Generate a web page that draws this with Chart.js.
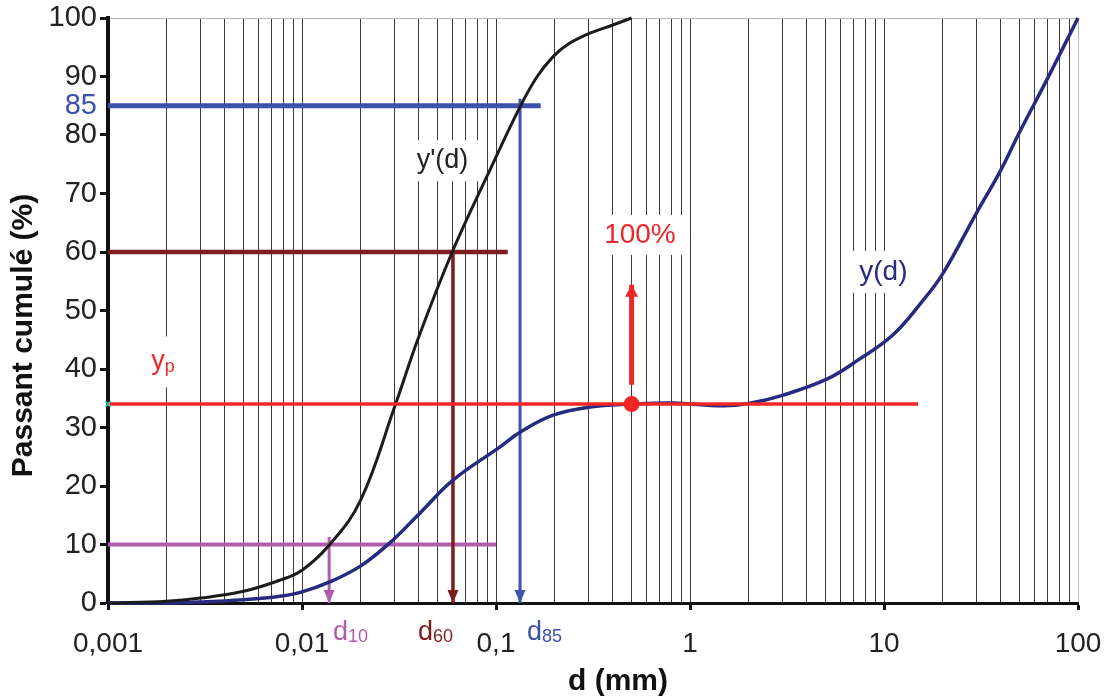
<!DOCTYPE html>
<html><head><meta charset="utf-8">
<script src="https://cdn.jsdelivr.net/npm/chart.js@4.4.1/dist/chart.umd.min.js"></script>
<style>html,body{margin:0;padding:0;background:#fff;}canvas{display:block;}</style>
</head><body>
<canvas id="c" width="1110" height="697"></canvas>
<script>
// ---------- data ----------
const sizesYPrime = [0.001, 0.002, 0.003, 0.005, 0.0077, 0.01, 0.0139, 0.02, 0.03, 0.04, 0.06, 0.09, 0.133, 0.163, 0.197, 0.232, 0.305, 0.4, 0.5];
const passYPrime  = [0, 0.3, 0.85, 2.0, 3.9, 5.6, 10, 17.5, 33.5, 45.5, 60.3, 73, 84.8, 90, 93.4, 95.4, 97.4, 98.8, 100];

const sizesY = [0.001, 0.002, 0.003, 0.005, 0.0077, 0.01, 0.0139, 0.02, 0.0284, 0.0406, 0.06, 0.105, 0.133, 0.197, 0.305, 0.5, 0.82, 1.48, 2.0, 3.0, 5.1, 7.4, 11.1, 15.7, 20.1, 30, 40, 50, 70, 100];
const passY  = [0, 0, 0.15, 0.55, 1.15, 1.9, 3.6, 6.3, 10.3, 15.4, 21, 26.7, 29.2, 32.1, 33.5, 34.0, 34.2, 33.7, 34.1, 35.5, 38.3, 41.6, 45.8, 51.5, 56.3, 66.7, 74, 80.5, 89.8, 100];

const xTickLabels = ['0,001', '0,01', '0,1', '1', '10', '100'];
const yTickValues = [0, 10, 20, 30, 40, 50, 60, 70, 80, 85, 90, 100];
const xDecades = [-3, -2, -1, 0, 1, 2];
const xMinorMultipliers = [1, 2, 3, 4, 5, 6, 7, 8, 9];

// reference lines (d, passant)
const line85X = [0.001, 0.17],  line85Y = [85, 85];
const arrow85X = [0.133, 0.133], arrow85Y = [86.2, 0];
const line60X = [0.001, 0.115], line60Y = [60, 60];
const arrow60X = [0.06, 0.06],  arrow60Y = [60, 0];
const line10X = [0.001, 0.1],   line10Y = [10, 10];
const arrow10X = [0.0138, 0.0138], arrow10Y = [11.3, 0];
const lineYpX = [0.001, 15],    lineYpY = [34, 34];
const dotX = [0.5], dotY = [34];
const arrowUpX = [0.5, 0.5], arrowUpY = [37.3, 54.4];
const markX = [0.001], markY = [34];

// ---------- styles ----------
const FONT = "'Liberation Sans', Arial, sans-serif";
const C_BLACK = '#1c1c1c', C_NAVY = '#272b80', C_BLUE = '#3e51ac', C_DRED = '#7d1d1f', C_MAG = '#b25cad', C_RED = '#ee2626', C_CYAN = '#3cc8c8';

const pts = (xs, ys) => xs.map((x, i) => ({x, y: ys[i]}));
const isDecade = v => Math.abs(Math.log10(v) - Math.round(Math.log10(v))) < 1e-9;

const annotations = [
  {parts: [{t: "y'(d)"}], x: 0.053, y: 75.6, color: '#222', box: true, align: 'center', size: 27, px: 14, py: 7},
  {parts: [{t: '100%'}], x: 0.552, y: 62.9, color: C_RED, box: true, align: 'center', size: 28, px: 12, py: 6},
  {parts: [{t: 'y(d)'}], x: 9.93, y: 56.6, color: C_NAVY, box: true, align: 'center', size: 28, px: 14, py: 7},
  {parts: [{t: 'y'}, {t: 'p', sub: true}], x: 0.00192, y: 41.2, color: C_RED, box: true, align: 'center', size: 27, px: 10, py: 12},
  {parts: [{t: 'd'}, {t: '10', sub: true}], x: 0.01445, y: -5, color: C_MAG, box: false, align: 'left', size: 27},
  {parts: [{t: 'd'}, {t: '60', sub: true}], x: 0.0396, y: -5, color: C_DRED, box: false, align: 'left', size: 27},
  {parts: [{t: 'd'}, {t: '85', sub: true}], x: 0.1445, y: -5, color: C_BLUE, box: false, align: 'left', size: 27},
];

const labelPlugin = {
  id: 'labels',
  beforeDatasetsDraw(chart) {
    const ctx = chart.ctx, xs = chart.scales.x, ys = chart.scales.y;
    annotations.forEach(a => {
      const cx = xs.getPixelForValue(a.x), cy = ys.getPixelForValue(a.y);
      const subSize = Math.round(a.size * 0.66);
      let w = 0;
      a.parts.forEach(p => { ctx.font = (p.sub ? subSize : a.size) + 'px ' + FONT; p.w = ctx.measureText(p.t).width; w += p.w; });
      const left = a.align === 'center' ? cx - w / 2 : cx;
      if (a.box) {
        ctx.fillStyle = '#fff';
        ctx.fillRect(left - a.px, cy - a.size / 2 - a.py, w + 2 * a.px, a.size + 2 * a.py);
      }
      ctx.fillStyle = a.color;
      ctx.textBaseline = 'middle';
      ctx.textAlign = 'left';
      let xx = left;
      a.parts.forEach(p => {
        ctx.font = (p.sub ? subSize : a.size) + 'px ' + FONT;
        ctx.fillText(p.t, xx, p.sub ? cy + a.size * 0.18 : cy);
        xx += p.w;
      });
    });
  }
};

const arrowPlugin = {
  id: 'arrowHeads',
  afterDatasetsDraw(chart) {
    const ctx = chart.ctx;
    chart.data.datasets.forEach((ds, i) => {
      if (!ds.arrowHead) return;
      const el = chart.getDatasetMeta(i).data;
      const a = el[el.length - 2], b = el[el.length - 1];
      const ang = Math.atan2(b.y - a.y, b.x - a.x);
      const L = ds.arrowHead.length, W = ds.arrowHead.width;
      const bx = b.x - L * Math.cos(ang), by = b.y - L * Math.sin(ang);
      ctx.save();
      ctx.fillStyle = ds.borderColor;
      ctx.beginPath();
      ctx.moveTo(b.x, b.y);
      ctx.lineTo(bx + W / 2 * Math.sin(ang), by - W / 2 * Math.cos(ang));
      ctx.lineTo(bx - W / 2 * Math.sin(ang), by + W / 2 * Math.cos(ang));
      ctx.closePath();
      ctx.fill();
      ctx.restore();
    });
  }
};

const lineDs = (label, xs, ys, color, width, order, extra) => Object.assign({
  label, data: pts(xs, ys), borderColor: color, backgroundColor: color, borderWidth: width,
  showLine: true, pointRadius: 0, pointHoverRadius: 0, order, clip: false, borderCapStyle: 'butt', tension: 0
}, extra || {});

new Chart(document.getElementById('c'), {
  type: 'scatter',
  data: {
    datasets: [
      lineDs('point', dotX, dotY, C_RED, 0, 0, {showLine: false, pointRadius: 8, pointBackgroundColor: C_RED, pointBorderWidth: 0}),
      lineDs('mark', markX, markY, C_CYAN, 0, 0, {showLine: false, pointRadius: 4, pointStyle: 'crossRot', pointBorderColor: C_CYAN, pointBorderWidth: 1.5}),
      lineDs('up', arrowUpX, arrowUpY, C_RED, 5, 1, {arrowHead: {length: 12, width: 13}}),
      lineDs("y'(d)", sizesYPrime, passYPrime, C_BLACK, 3, 3, {tension: 0.4}),
      lineDs('yp', lineYpX, lineYpY, C_RED, 3.5, 2),
      lineDs('y(d)', sizesY, passY, C_NAVY, 3.5, 4, {tension: 0.4}),
      lineDs('85h', line85X, line85Y, C_BLUE, 5, 6),
      lineDs('85v', arrow85X, arrow85Y, C_BLUE, 3, 6, {arrowHead: {length: 13, width: 11}}),
      lineDs('60h', line60X, line60Y, C_DRED, 4.5, 6),
      lineDs('60v', arrow60X, arrow60Y, C_DRED, 3.5, 6, {arrowHead: {length: 13, width: 11}}),
      lineDs('10h', line10X, line10Y, C_MAG, 4, 6),
      lineDs('10v', arrow10X, arrow10Y, C_MAG, 3, 6, {arrowHead: {length: 13, width: 11}}),
    ]
  },
  options: {
    responsive: false,
    animation: false,
    events: [],
    layout: {padding: {left: 0, top: 18, right: 32, bottom: 0}},
    plugins: {legend: {display: false}, tooltip: {enabled: false}},
    scales: {
      x: {
        type: 'logarithmic', min: 0.001, max: 100,
        afterBuildTicks: s => {
          const t = [];
          xDecades.forEach(e => xMinorMultipliers.forEach(m => {
            const v = Number((m * Math.pow(10, e)).toPrecision(3));
            if (v <= 100) t.push({value: v});
          }));
          s.ticks = t;
        },
        afterFit: s => { s.height = 94; s.paddingLeft = 0; s.paddingRight = 0; },
        border: {display: true, color: '#111', width: 3},
        grid: {
          drawOnChartArea: true, drawTicks: true, tickLength: 7,
          color: c => { const v = c.tick && c.tick.value; if (v === 0.001) return 'rgba(0,0,0,0)'; if (v === 100) return '#b8b8b8'; return '#3a3a3a'; },
          lineWidth: 1,
          tickColor: c => (c.tick && isDecade(c.tick.value)) ? '#111' : 'rgba(0,0,0,0)',
          tickWidth: 3
        },
        ticks: {
          autoSkip: false, maxRotation: 0, minRotation: 0, padding: 17,
          color: '#222', font: {family: FONT, size: 28},
          callback: v => isDecade(v) ? xTickLabels[Math.round(Math.log10(v)) + 3] : ''
        },
        title: {display: true, text: '      d (mm)', color: '#111', font: {family: FONT, size: 30, weight: 'bold', lineHeight: 1}, padding: {top: 0, bottom: 0}}
      },
      y: {
        type: 'linear', min: 0, max: 100,
        afterBuildTicks: s => { s.ticks = yTickValues.map(v => ({value: v})); },
        afterFit: s => { s.width = 108; s.paddingTop = 0; s.paddingBottom = 0; },
        border: {display: true, color: '#111', width: 4},
        grid: {
          drawOnChartArea: true, drawTicks: true, tickLength: 8,
          color: c => (c.tick && c.tick.value === 100) ? '#b8b8b8' : 'rgba(0,0,0,0)',
          lineWidth: 1,
          tickColor: c => (c.tick && c.tick.value === 85) ? 'rgba(0,0,0,0)' : '#111',
          tickWidth: 3
        },
        ticks: {
          autoSkip: false, padding: 3,
          color: c => (c.tick && c.tick.value === 85) ? C_BLUE : '#222',
          font: {family: FONT, size: 29},
          callback: v => String(v)
        },
        title: {display: true, text: 'Passant cumulé (%)      ', color: '#111', font: {family: FONT, size: 30, weight: 'bold', lineHeight: 1}, padding: {top: 9, bottom: 0}}
      }
    }
  },
  plugins: [labelPlugin, arrowPlugin]
});
</script>
</body></html>
